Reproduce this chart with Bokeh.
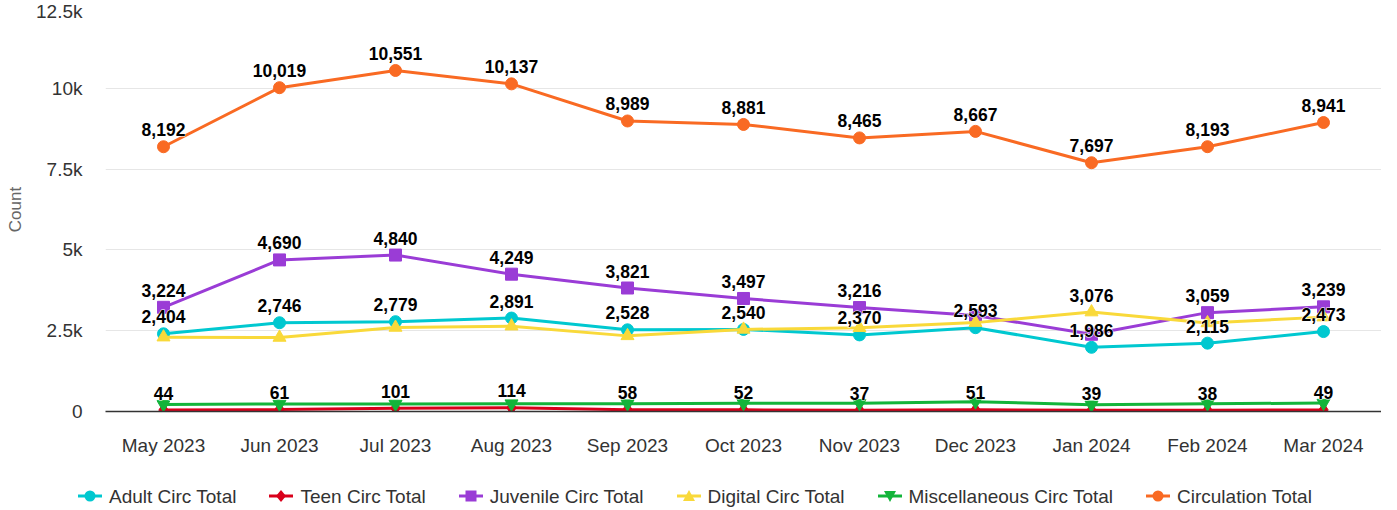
from bokeh.plotting import figure
from bokeh.layouts import column
from bokeh.models import ColumnDataSource, FactorRange, Range1d, FixedTicker, Div
from bokeh.core.properties import value
from bokeh.embed import file_html
from bokeh.resources import INLINE

months = ["May 2023", "Jun 2023", "Jul 2023", "Aug 2023", "Sep 2023", "Oct 2023",
          "Nov 2023", "Dec 2023", "Jan 2024", "Feb 2024", "Mar 2024"]
adult = [2404, 2746, 2779, 2891, 2528, 2540, 2370, 2593, 1986, 2115, 2473]
teen = [44, 61, 101, 114, 58, 52, 37, 51, 39, 38, 49]
juvenile = [3224, 4690, 4840, 4249, 3821, 3497, 3216, 2970, 2390, 3059, 3239]
digital = [2300, 2290, 2600, 2640, 2340, 2540, 2590, 2750, 3076, 2740, 2920]
misc = [220, 232, 231, 243, 242, 252, 252, 303, 206, 241, 260]
circulation = [8192, 10019, 10551, 10137, 8989, 8881, 8465, 8667, 7697, 8193, 8941]

y_ticks = [0, 2500, 5000, 7500, 10000, 12500]
y_tick_labels = ["0", "2.5k", "5k", "7.5k", "10k", "12.5k"]

# which data labels are visible (overlapping ones are hidden in the original)
show_all = [True] * 11
show_none = [False] * 11
series = [
    ("Adult Circ Total", adult, "#00C8D0", "circle", 12, show_all),
    ("Teen Circ Total", teen, "#D9001B", "diamond", 14, show_all),
    ("Juvenile Circ Total", juvenile, "#9A3CD6", "square", 12, [True] * 7 + [False, False, True, True]),
    ("Digital Circ Total", digital, "#F9D93A", "triangle", 13, [False] * 8 + [True, False, False]),
    ("Miscellaneous Circ Total", misc, "#13B43A", "inverted_triangle", 13, show_none),
    ("Circulation Total", circulation, "#F96A23", "circle", 12, show_all),
]

FONT = "Liberation Sans"

p = figure(width=1381, height=458, x_range=FactorRange(factors=months),
           y_range=Range1d(0, 12500), output_backend="svg", toolbar_location=None,
           min_border_left=105, min_border_right=0, min_border_top=7, min_border_bottom=47)
p.outline_line_color = None
p.background_fill_color = "white"

p.xgrid.grid_line_color = None
p.ygrid.grid_line_color = "#e6e6e6"
p.ygrid.grid_line_width = 1
p.yaxis.ticker = FixedTicker(ticks=y_ticks)
p.yaxis.major_label_overrides = {t: l for t, l in zip(y_ticks, y_tick_labels)}
p.yaxis.axis_line_color = None
p.yaxis.major_tick_line_color = None
p.yaxis.minor_tick_line_color = None
p.yaxis.major_tick_out = 0
p.yaxis.major_label_standoff = 23
p.yaxis.major_label_text_font = FONT
p.yaxis.major_label_text_font_size = "19px"
p.yaxis.major_label_text_color = "#333333"
p.yaxis.axis_label = "Count"
p.yaxis.axis_label_text_font = FONT
p.yaxis.axis_label_text_font_size = "17px"
p.yaxis.axis_label_text_font_style = "normal"
p.yaxis.axis_label_text_color = "#666666"
p.yaxis.axis_label_standoff = 8

p.xaxis.axis_line_color = "#333333"
p.xaxis.axis_line_width = 1.5
p.xaxis.major_tick_line_color = None
p.xaxis.major_tick_out = 0
p.xaxis.major_tick_in = 0
p.xaxis.major_label_standoff = 23
p.xaxis.major_label_text_font = FONT
p.xaxis.major_label_text_font_size = "19px"
p.xaxis.major_label_text_color = "#333333"

lx, ly, lt = [], [], []
for name, vals, color, marker, size, shown in series:
    src = ColumnDataSource(dict(x=months, y=vals))
    p.line("x", "y", source=src, line_color=color, line_width=3)
    p.scatter("x", "y", source=src, marker=marker, size=size,
              fill_color=color, line_color=color)
    for m, v, s in zip(months, vals, shown):
        if s:
            lx.append(m)
            ly.append(v)
            lt.append(f"{v:,}")

lab_src = ColumnDataSource(dict(x=lx, y=ly, t=lt))
# white halo underneath, then the black label on top
p.text("x", "y", text="t", source=lab_src, text_align="center", text_baseline="middle",
       y_offset=-17, text_font=value(FONT), text_font_size="17.5px",
       text_font_style="bold", text_color="white", text_outline_color="white")
p.text("x", "y", text="t", source=lab_src, text_align="center", text_baseline="middle",
       y_offset=-17, text_font=value(FONT), text_font_size="17.5px",
       text_font_style="bold", text_color="black")

# legend strip (HTML) below the chart
shapes = {
    "circle": '<circle cx="12" cy="7" r="5.5" fill="{c}"/>',
    "diamond": '<polygon points="12,1 17,7 12,13 7,7" fill="{c}"/>',
    "square": '<rect x="6.5" y="1.5" width="11" height="11" fill="{c}"/>',
    "triangle": '<polygon points="12,1 18,12 6,12" fill="{c}"/>',
    "inverted_triangle": '<polygon points="6,2 18,2 12,13" fill="{c}"/>',
}
parts = []
for name, vals, color, marker, size, shown in series:
    sym = ('<svg width="24" height="14" viewBox="0 0 24 14" style="display:block">'
           f'<line x1="0" y1="7" x2="24" y2="7" stroke="{color}" stroke-width="3"/>'
           + shapes[marker].format(c=color) + '</svg>')
    parts.append('<span style="display:inline-flex;align-items:center;margin-right:33px">'
                 f'{sym}<span style="margin-left:7px">{name}</span></span>')
legend_html = ('<div style="display:flex;align-items:flex-end;height:52px;padding-left:78px;'
               f'font-family:\'{FONT}\';font-size:19px;color:#333333;white-space:nowrap">'
               + "".join(parts) + '</div>')
leg = Div(text=legend_html, width=1381, height=52, margin=(0, 0, 0, 0))

layout = column(p, leg, spacing=0)
open("out.html", "w").write(file_html(layout, INLINE))
